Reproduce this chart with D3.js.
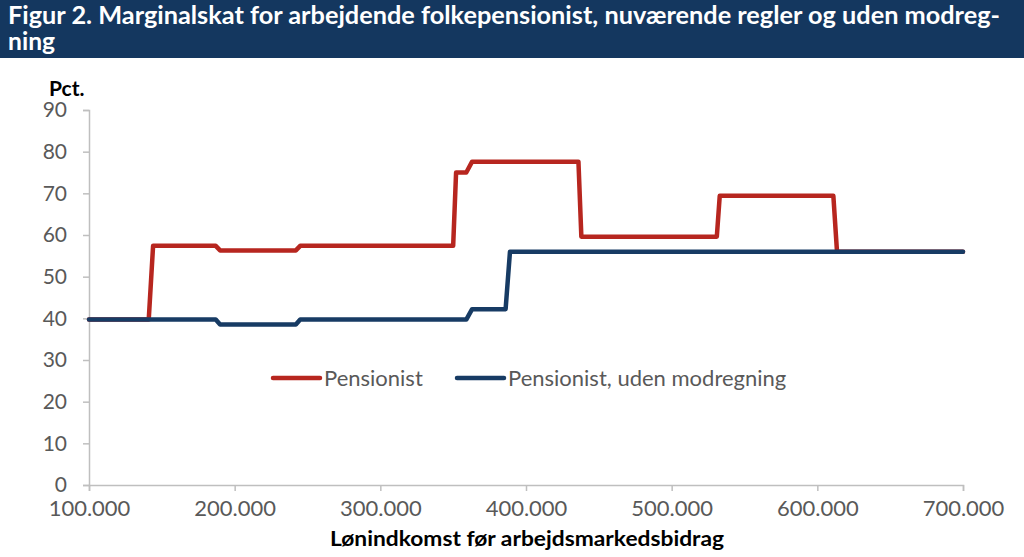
<!DOCTYPE html>
<html>
<head>
<meta charset="utf-8">
<script src="https://cdn.jsdelivr.net/npm/d3@7"></script>
<style>
  body { margin: 0; background: #fff; }
  svg { display: block; font-family: Lato, "Open Sans", sans-serif; }
</style>
</head>
<body>
<div id="chart"></div>
<script>
// income points (kr.) and marginal tax (pct.)
var incomePensionist = [100000, 141000, 144000, 187000, 190000, 242000, 245000, 350000, 352000,
                        359000, 363000, 436000, 438000, 531000, 533000, 611000, 613500, 700000];
var pensionist = [39.7, 39.7, 57.4, 57.4, 56.3, 56.3, 57.4, 57.4, 75.0,
                  75.0, 77.6, 77.6, 59.6, 59.6, 69.4, 69.4, 56.0, 56.0];

var incomeUden = [100000, 187000, 190000, 242000, 245000, 359000, 363000, 386000, 389000, 700000];
var udenModregning = [39.7, 39.7, 38.5, 38.5, 39.7, 39.7, 42.2, 42.2, 56.0, 56.0];

var xTicks = [100000, 200000, 300000, 400000, 500000, 600000, 700000];
var yTicks = [0, 10, 20, 30, 40, 50, 60, 70, 80, 90];

var seriesNames = ["Pensionist", "Pensionist, uden modregning"];
var seriesColors = ["#b7261f", "#173b64"];

function init(){
    var w = 1024;
    var h = 557;
    var left = 89, right = 963, top = 110, bottom = 485;

    var svg = d3.select('#chart')
                .append('svg')
                .attr('width', w)
                .attr('height', h);

    // title bar
    svg.append('rect')
        .attr('x', 0).attr('y', 0)
        .attr('width', w).attr('height', 58)
        .attr('fill', '#14375f');

    svg.append('text')
        .attr('x', 8).attr('y', 24)
        .attr('fill', '#fff')
        .attr('font-size', 24)
        .attr('font-weight', 'bold')
        .attr('textLength', 992)
        .attr('lengthAdjust', 'spacingAndGlyphs')
        .text('Figur 2. Marginalskat for arbejdende folkepensionist, nuværende regler og uden modreg-');

    svg.append('text')
        .attr('x', 8).attr('y', 50)
        .attr('fill', '#fff')
        .attr('font-size', 24)
        .attr('font-weight', 'bold')
        .attr('textLength', 47)
        .attr('lengthAdjust', 'spacingAndGlyphs')
        .text('ning');

    var xScale = d3.scaleLinear()
                    .domain([100000, 700000])
                    .range([left, right]);

    var yScale = d3.scaleLinear()
                    .domain([0, 90])
                    .range([bottom, top]);

    var fmt = function(d){ return d3.format(',')(d).replace(/,/g, '.'); };

    // x axis
    var xAxis = svg.append('g')
        .attr('transform', 'translate(0,' + bottom + ')')
        .call(d3.axisBottom(xScale).tickValues(xTicks).tickFormat(fmt).tickSize(6).tickPadding(5));

    // y axis
    var yAxis = svg.append('g')
        .attr('transform', 'translate(' + left + ',0)')
        .call(d3.axisLeft(yScale).tickValues(yTicks).tickSize(6).tickPadding(16));

    [xAxis, yAxis].forEach(function(g){
        g.select('.domain').attr('stroke', '#bfbfbf').attr('stroke-width', 1.5);
        g.selectAll('.tick line').attr('stroke', '#bfbfbf').attr('stroke-width', 1.5);
        g.selectAll('.tick text')
            .attr('fill', '#595959')
            .attr('font-family', 'Lato, sans-serif');
    });
    xAxis.selectAll('.tick text').attr('font-size', 22).attr('dy', '0.92em');
    yAxis.selectAll('.tick text').attr('font-size', 21);

    // axis titles
    svg.append('text')
        .attr('x', 49).attr('y', 96)
        .attr('font-size', 21)
        .attr('font-weight', 'bold')
        .attr('fill', '#000')
        .text('Pct.');

    svg.append('text')
        .attr('x', 527).attr('y', 546)
        .attr('text-anchor', 'middle')
        .attr('font-size', 20)
        .attr('font-weight', 'bold')
        .attr('fill', '#000')
        .attr('textLength', 394)
        .attr('lengthAdjust', 'spacingAndGlyphs')
        .text('Lønindkomst før arbejdsmarkedsbidrag');

    var line = d3.line()
        .x(function(d){ return xScale(d[0]); })
        .y(function(d){ return yScale(d[1]); });

    var redData = d3.zip(incomePensionist, pensionist);
    var blueData = d3.zip(incomeUden, udenModregning);

    svg.append('path')
        .datum(redData)
        .attr('d', line)
        .attr('fill', 'none')
        .attr('stroke', seriesColors[0])
        .attr('stroke-width', 4.5)
        .attr('stroke-linejoin', 'round')
        .attr('stroke-linecap', 'round');

    svg.append('path')
        .datum(blueData)
        .attr('d', line)
        .attr('fill', 'none')
        .attr('stroke', seriesColors[1])
        .attr('stroke-width', 4.5)
        .attr('stroke-linejoin', 'round')
        .attr('stroke-linecap', 'round');

    // legend
    var legendX = [273, 457];
    var legend = svg.selectAll('.legend')
        .data(seriesNames)
        .enter()
        .append('g')
        .attr('class', 'legend')
        .attr('transform', function(d, i){ return 'translate(' + legendX[i] + ',378)'; });

    legend.append('line')
        .attr('x1', 0).attr('x2', 47)
        .attr('y1', 0).attr('y2', 0)
        .attr('stroke', function(d, i){ return seriesColors[i]; })
        .attr('stroke-width', 4.5)
        .attr('stroke-linecap', 'round');

    legend.append('text')
        .attr('x', 51).attr('y', 8)
        .attr('font-size', 22)
        .attr('fill', '#595959')
        .text(function(d){ return d; });
}

window.onload = init;
</script>
</body>
</html>
